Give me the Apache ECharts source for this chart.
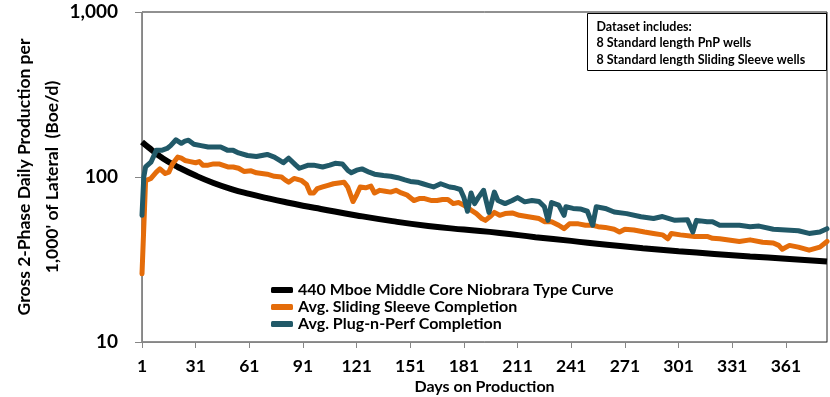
<!DOCTYPE html>
<html>
<head>
<meta charset="utf-8">
<script src="https://cdn.jsdelivr.net/npm/echarts@6/dist/echarts.min.js"></script>
<style>
  html, body { margin: 0; padding: 0; background: #fff; }
  #chart { width: 830px; height: 397px; }
</style>
</head>
<body>
<div id="chart"></div>
<script>
// legend names
const seriesNames = [
  '440 Mboe Middle Core Niobrara Type Curve',
  'Avg. Sliding Sleeve Completion',
  'Avg. Plug-n-Perf Completion'
]

// type curve
const typeDays = [1, 5, 10, 15, 21, 31, 41, 51, 61, 71, 81, 91, 101, 121, 141, 161, 181, 201, 221, 241, 261, 281, 301, 321, 341, 361, 384]
const typeVals = [163, 150, 136, 125, 115, 102, 92, 84.5, 79, 74.5, 70.5, 67, 64, 58.5, 54, 50.5, 48, 45.8, 43.2, 41, 38.8, 37, 35.5, 34.2, 33, 32, 30.8]

// sliding sleeve average
const sleeveDays = [1, 3, 6, 9, 11, 14, 16, 18, 21, 23, 25, 28, 31, 33, 35, 38, 41, 44, 49, 52, 55, 58, 62, 65, 68, 71, 75, 79, 81, 83, 86, 90, 93, 95, 97, 99, 102, 105, 108, 111, 114, 116, 119, 121, 123, 126, 129, 131, 134, 137, 140, 143, 146, 149, 153, 156, 159, 163, 166, 169, 172, 175, 178, 181, 185, 188, 191, 193, 196, 198, 201, 204, 208, 212, 217, 223, 226, 230, 234, 237, 240, 245, 249, 253, 256, 260, 265, 268, 271, 276, 282, 287, 292, 295, 297, 302, 310, 317, 320, 324, 328, 335, 341, 348, 354, 357, 359, 363, 368, 374, 380, 384]
const sleeveVals = [25.9, 95, 98, 107, 112, 105, 107, 120, 132, 130, 126, 124, 122, 124, 118, 118, 120, 120, 115, 115, 113, 108, 109, 106, 105, 104, 101, 100, 96, 93, 98, 95.5, 90, 80, 80, 85, 87, 89, 91, 92, 93, 87, 71, 78, 87, 86, 88, 80, 83, 82, 81, 83, 80, 78, 72, 74, 74, 72, 72, 73, 73, 69, 70, 67.5, 63, 60, 56, 54.6, 58, 61, 58.6, 60, 60.6, 58.6, 57.4, 56, 53.6, 53.6, 51, 48.6, 52, 52, 51, 51, 50, 49.5, 48.2, 46.4, 48.2, 47.7, 46.4, 45.5, 44.6, 42.2, 45.5, 44.6, 43.6, 43.6, 42.5, 42.2, 41.6, 40.7, 41.6, 40.2, 39.8, 38.5, 36.5, 38.5, 37.6, 36, 37.6, 40.7]

// plug-n-perf average
const pnpDays = [1, 2, 3, 6, 9, 12, 15, 17, 20, 23, 25, 27, 30, 34, 38, 43, 45, 49, 52, 55, 60, 65, 68, 71, 75, 78, 80, 83, 87, 89, 94, 97, 102, 106, 109, 113, 116, 118, 121, 124, 128, 131, 136, 140, 144, 148, 151, 155, 158, 161, 164, 168, 173, 176, 179, 181, 183, 185, 187, 189, 192, 195, 198, 200, 204, 208, 211, 215, 219, 223, 226, 228, 230, 234, 237, 238, 242, 246, 250, 253, 255, 260, 265, 272, 280, 287, 292, 299, 306, 309, 311, 317, 320, 324, 328, 335, 341, 346, 354, 361, 368, 374, 380, 384]
const pnpVals = [58.6, 100, 115, 123, 145, 145, 149, 155, 168, 160, 165, 167, 158, 155, 152, 152, 152, 145, 145, 140, 135, 133, 135, 137, 132, 126, 122, 130, 118, 113, 118, 118, 115, 118, 121, 120, 110, 106, 110, 112, 107, 104, 102, 101, 99, 96, 94, 93, 91, 89, 87, 91, 87, 86, 84, 75, 62, 80, 69, 75, 83, 61, 81, 72, 69, 72, 75, 70.7, 72, 71, 66, 54.6, 70, 67.5, 58.6, 66, 64.5, 64, 62, 51, 66, 64.5, 61.4, 60, 57.4, 56, 57.6, 54.6, 55, 46.4, 54.6, 53.6, 53.6, 51, 51, 51, 50, 50.4, 48.2, 47.7, 47.2, 45.5, 46.4, 48.6]

const colors = ['#000000', '#E46C0A', '#215968']
const FONT = 'Lato'

function pairs (days, vals) {
  return days.map((d, i) => [d, vals[i]])
}

const chart = echarts.init(document.getElementById('chart'), null, { renderer: 'canvas' })

const option = {
  animation: false,
  color: colors,
  textStyle: { fontFamily: FONT },
  grid: {
    left: 142,
    right: 3,
    top: 12,
    bottom: 55,
    show: true,
    borderColor: '#222',
    borderWidth: 1,
    outerBoundsMode: 'none'
  },
  legend: {
    orient: 'vertical',
    left: 266,
    top: 277,
    itemGap: 1,
    itemWidth: 22,
    itemHeight: 6,
    itemTextGap: 1,
    icon: 'roundRect',
    data: seriesNames,
    textStyle: { fontFamily: FONT, fontWeight: 'bold', fontSize: 16, color: '#000' }
  },
  xAxis: {
    type: 'value',
    min: 1,
    max: 384,
    interval: 30,
    name: 'Days on Production',
    nameLocation: 'middle',
    nameGap: 37,
    nameMoveOverlap: false,
    nameTextStyle: { fontFamily: FONT, fontWeight: 'bold', fontSize: 16, color: '#000' },
    splitLine: { show: false },
    axisLine: { lineStyle: { color: '#868686', width: 1 } },
    axisTick: { length: 6, lineStyle: { color: '#868686' } },
    axisLabel: {
      margin: 15,
      showMaxLabel: false,
      fontFamily: FONT,
      fontWeight: 'bold',
      fontSize: 17.5,
      color: '#000'
    }
  },
  yAxis: {
    type: 'log',
    logBase: 10,
    min: 10,
    max: 1000,
    name: "Gross 2-Phase Daily Production per\n1,000' of Lateral  (Boe/d)",
    nameLocation: 'middle',
    nameGap: 76,
    nameMoveOverlap: false,
    nameTextStyle: { fontFamily: FONT, fontWeight: 'bold', fontSize: 17.5, color: '#000', lineHeight: 28 },
    splitLine: { show: false },
    axisLine: { show: true, lineStyle: { color: '#868686', width: 1 } },
    axisTick: { show: true, length: 7, lineStyle: { color: '#868686' } },
    axisLabel: {
      margin: 24,
      fontFamily: FONT,
      fontWeight: 'bold',
      fontSize: 19,
      color: '#000',
      formatter: v => Number(v).toLocaleString('en-US')
    }
  },
  graphic: [{
    type: 'group',
    left: 587,
    top: 13,
    children: [{
      type: 'rect',
      shape: { x: 0, y: 0, width: 239, height: 57 },
      style: { fill: '#fff', stroke: '#000', lineWidth: 1 }
    }, {
      type: 'text',
      x: 9,
      y: 5,
      style: {
        text: 'Dataset includes:\n8 Standard length PnP wells\n8 Standard length Sliding Sleeve wells',
        font: 'bold 12.5px Lato',
        lineHeight: 16.5,
        fill: '#000'
      }
    }]
  }],
  series: [{
    name: seriesNames[0],
    type: 'line',
    smooth: true,
    showSymbol: false,
    lineStyle: { width: 6, color: colors[0] },
    data: pairs(typeDays, typeVals),
    z: 2
  }, {
    name: seriesNames[1],
    type: 'line',
    showSymbol: false,
    lineStyle: { width: 5, color: colors[1], join: 'round', cap: 'round' },
    data: pairs(sleeveDays, sleeveVals),
    z: 3
  }, {
    name: seriesNames[2],
    type: 'line',
    showSymbol: false,
    lineStyle: { width: 5, color: colors[2], join: 'round', cap: 'round' },
    data: pairs(pnpDays, pnpVals),
    z: 4
  }]
}

chart.setOption(option)
</script>
</body>
</html>
